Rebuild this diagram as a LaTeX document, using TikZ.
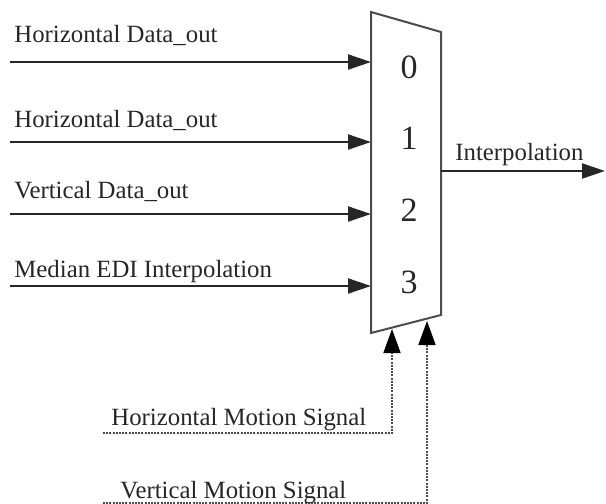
\documentclass[tikz,border=0pt]{standalone}
\usepackage{fontspec}
\setmainfont{Liberation Serif}
\usetikzlibrary{arrows.meta}

\tikzset{
  muxline/.style={draw=black!70, line width=1pt, line join=miter},
  sigline/.style={draw=black!85, line width=1pt,
    -{Triangle[length=11.5pt,width=7.5pt]}},
  ctrlhead/.style={draw=black!70, line width=0.8pt, dash pattern=on 1pt off 0.6pt,
    -{Triangle[length=12pt,width=8.5pt,color=black]}},
  lbl/.style={inner sep=0pt, text=black!85, font=\fontsize{12.4}{14}\selectfont},
  digit/.style={inner sep=0pt, text=black!85, font=\fontsize{17}{20}\selectfont}
}

\begin{document}
\begin{tikzpicture}[x=0.5pt, y=-0.5pt]
  \useasboundingbox (0,0) rectangle (606,504);

  % multiplexer body
  \coordinate (tl) at (371,12);
  \coordinate (tr) at (441,32);
  \coordinate (br) at (441,315);
  \coordinate (bl) at (371,333);
  \draw[muxline] (tl) -- (tr) -- (br) -- (bl) -- cycle;

  % input port numbers
  \node[digit] (d0) at (409,67) {0};
  \node[digit] (d1) at (409,138) {1};
  \node[digit] (d2) at (409,210) {2};
  \node[digit] (d3) at (409,282) {3};

  % data inputs
  \coordinate (s0) at (10,62);   \coordinate (e0) at (371,62);
  \coordinate (s1) at (10,142);  \coordinate (e1) at (371,142);
  \coordinate (s2) at (10,214);  \coordinate (e2) at (371,214);
  \coordinate (s3) at (10,286);  \coordinate (e3) at (371,286);
  \draw[sigline] (s0) -- (e0);
  \draw[sigline] (s1) -- (e1);
  \draw[sigline] (s2) -- (e2);
  \draw[sigline] (s3) -- (e3);

  \node[lbl, anchor=base west] (l0) at (14,42)  {Horizontal Data\_out};
  \node[lbl, anchor=base west] (l1) at (14,127) {Horizontal Data\_out};
  \node[lbl, anchor=base west] (l2) at (14,198) {Vertical Data\_out};
  \node[lbl, anchor=base west] (l3) at (14,277) {Median EDI Interpolation};

  % output
  \coordinate (o0) at (441,171);
  \coordinate (o1) at (605,171);
  \draw[sigline] (o0) -- (o1);
  \node[lbl, anchor=base west] (lo) at (455,160) {Interpolation};

  % select signals
  \coordinate (hm0) at (103,433);
  \coordinate (hm1) at (392,433);
  \coordinate (hm2) at (392,329);
  \draw[ctrlhead] (hm0) -- (hm1) -- (hm2);
  \node[lbl, anchor=base west] (lhm) at (111,425) {Horizontal Motion Signal};

  \coordinate (vm0) at (103,503);
  \coordinate (vm1) at (427,503);
  \coordinate (vm2) at (427,321);
  \draw[ctrlhead] (vm0) -- (vm1) -- (vm2);
  \node[lbl, anchor=base west] (lvm) at (120,498) {Vertical Motion Signal};
\end{tikzpicture}
\end{document}
